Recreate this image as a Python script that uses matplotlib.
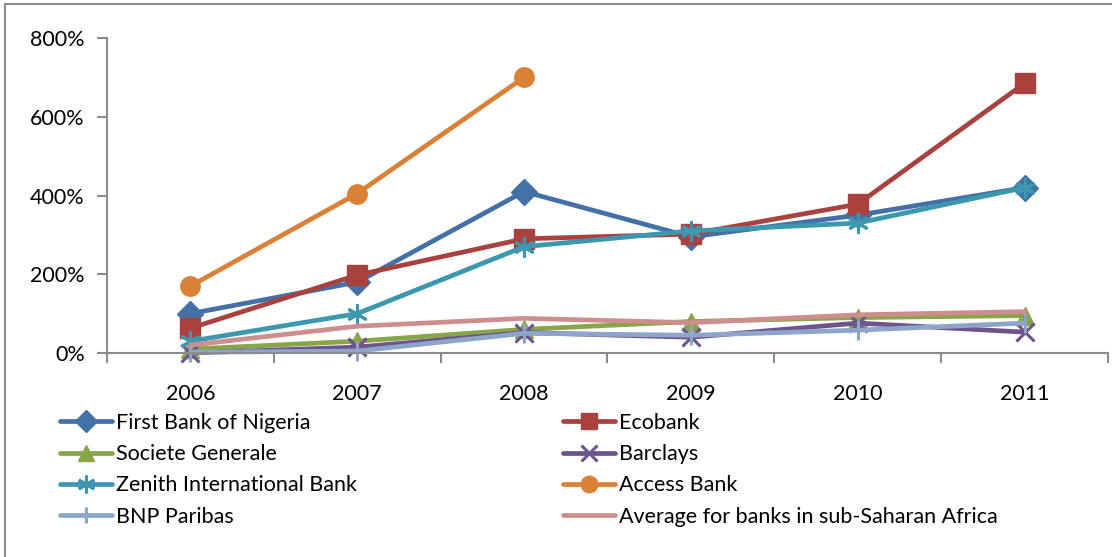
import matplotlib.pyplot as plt
from matplotlib.patches import Rectangle
from matplotlib.ticker import FixedLocator, NullFormatter

plt.rcParams['font.family'] = ['Lato', 'DejaVu Sans']

years = ["2006", "2007", "2008", "2009", "2010", "2011"]

first_bank = [100, 180, 410, 295, 350, 420]
ecobank = [63, 198, 290, 302, 378, 685]
societe_generale = [10, 30, 60, 80, 90, 95]
barclays = [0, 15, 52, 40, 76, 53]
zenith = [30, 100, 270, 310, 330, 420]
access = [170, 405, 700]
bnp = [2, 5, 50, 45, 58, 76]
average = [20, 68, 88, 77, 97, 105]

series = [
    ("First Bank of Nigeria", first_bank, "#4470A8", "D", 13),
    ("Ecobank", ecobank, "#A9423F", "s", 14),
    ("Societe Generale", societe_generale, "#88A54A", "^", 13),
    ("Barclays", barclays, "#6E548D", "x", 13),
    ("Zenith International Bank", zenith, "#3C97AF", (6, 2, 0), 15),
    ("Access Bank", access, "#DA8137", "o", 14),
    ("BNP Paribas", bnp, "#8EA5CB", "|", 14),
    ("Average for banks in sub-Saharan Africa", average, "#CE8E8D", None, 0),
]


def main():
    fig = plt.figure(figsize=(11.12, 5.57), dpi=100)
    # outer chart border
    fig.patches.append(Rectangle((5 / 1112, -0.1), 1.2, 1 - 4 / 557 + 0.1,
                                 transform=fig.transFigure, fill=False,
                                 edgecolor="#8c8c8c", linewidth=1.5))
    ax = fig.add_axes([107 / 1112, 1 - 353 / 557, 1001 / 1112, 315 / 557])

    handles = {}
    for name, vals, color, marker, ms in series:
        x = list(range(len(vals)))
        kw = dict(color=color, linewidth=3.4, label=name, solid_capstyle="round")
        if marker is not None:
            kw.update(marker=marker, markersize=ms, markeredgecolor=color,
                      markerfacecolor=color, markeredgewidth=2.2 if marker in ("x", "|", (6, 2, 0)) else 1)
        line, = ax.plot(x, vals, **kw)
        line.set_clip_on(False)
        handles[name] = line

    ax.set_xlim(-0.5, 5.5)
    ax.set_ylim(0, 800)
    ax.set_yticks([0, 200, 400, 600, 800])
    ax.set_yticklabels(["0%", "200%", "400%", "600%", "800%"])
    ax.xaxis.set_major_locator(FixedLocator([i - 0.5 for i in range(7)]))
    ax.xaxis.set_major_formatter(NullFormatter())
    ax.xaxis.set_minor_locator(FixedLocator(range(6)))
    ax.set_xticklabels(years, minor=True)
    ax.tick_params(axis="x", which="major", length=7, width=1.5, color="#8c8c8c", direction="out")
    ax.tick_params(axis="x", which="minor", length=0, pad=22, labelsize=15.5)
    ax.tick_params(axis="y", length=7, width=1.5, color="#8c8c8c", pad=9, labelsize=15.5)
    for s in ("top", "right"):
        ax.spines[s].set_visible(False)
    for s in ("left", "bottom"):
        ax.spines[s].set_color("#8c8c8c")
        ax.spines[s].set_linewidth(1.5)

    col1 = ["First Bank of Nigeria", "Societe Generale", "Zenith International Bank", "BNP Paribas"]
    col2 = ["Ecobank", "Barclays", "Access Bank", "Average for banks in sub-Saharan Africa"]
    for names, x0 in ((col1, 60), (col2, 563)):
        leg = fig.legend([handles[n] for n in names], names, ncol=1,
                         loc="upper left", bbox_to_anchor=(x0 / 1112, 1 - 413 / 557),
                         frameon=False, fontsize=15.5, handlelength=2.4, handletextpad=0.2,
                         labelspacing=0.52, borderaxespad=0, borderpad=0,
                         markerscale=0.85)
        for t in leg.get_texts():
            t.set_fontstretch("condensed")

    fig.savefig("out.png", dpi=100)


if __name__ == "__main__":
    main()
